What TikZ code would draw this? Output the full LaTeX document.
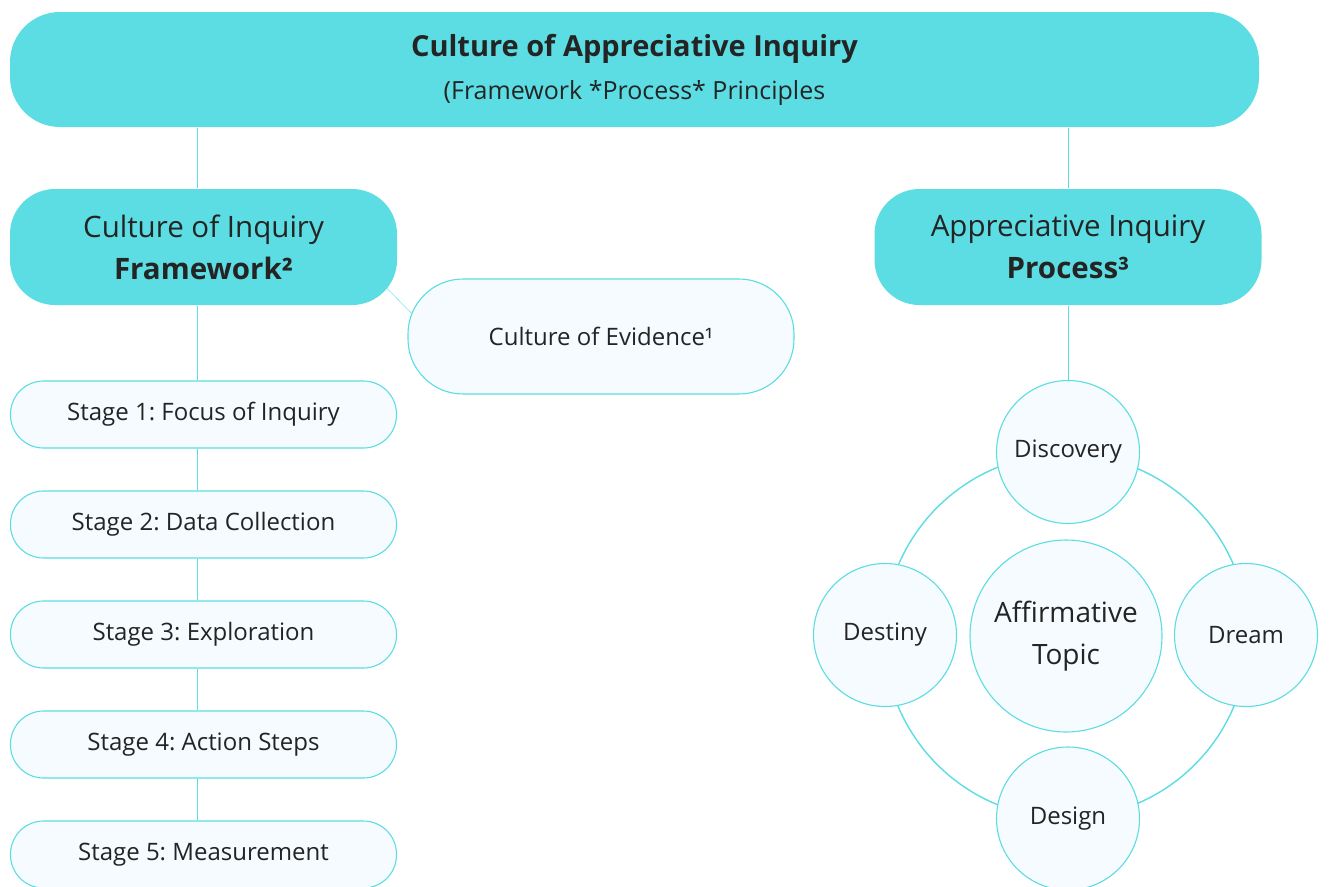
\documentclass[tikz,border=0pt]{standalone}
\usepackage{fontspec}
\setmainfont{Open Sans}
\usetikzlibrary{backgrounds}
\definecolor{aqua}{HTML}{5BDDE3}
\definecolor{pale}{HTML}{F5FBFE}
\definecolor{ink}{HTML}{242424}
\frenchspacing
\begin{document}
\begin{tikzpicture}[x=1pt,y=-1pt,line width=1.1pt,text=ink,
    topbox/.style={rounded corners=50pt,fill=aqua,minimum width=1249pt,minimum height=115pt,align=center,font=\fontsize{25}{43}\selectfont},
    headbox/.style={rounded corners=45pt,fill=aqua,minimum width=387pt,minimum height=116pt,align=center,font=\fontsize{29.5}{42}\selectfont},
    stagebox/.style={rounded corners=33pt,draw=aqua,fill=pale,minimum width=386pt,minimum height=67pt,font=\fontsize{24}{26}\selectfont},
    evbox/.style={rounded corners=55pt,draw=aqua,fill=pale,minimum width=386pt,minimum height=115pt,font=\fontsize{24}{26}\selectfont},
    phase/.style={circle,draw=aqua,fill=pale,minimum size=143pt,inner sep=0pt,font=\fontsize{24}{26}\selectfont},
    link/.style={draw=aqua}]
    \useasboundingbox(0,0)rectangle(1329,886);
    \node[topbox](top)at(634.5,69.5){{\fontsize{29}{43}\selectfont\textbf{Culture of Appreciative Inquiry}}\\(Framework *Process* Principles};
    \node[headbox](cif)at(203.5,247){Culture of Inquiry\\\textbf{Framework²}};
    \node[headbox](aip)at(1068,247){Appreciative Inquiry\\\textbf{Process³}};
    \node[evbox](coe)at(601,336.5){Culture of Evidence¹};
    % stages of the framework
    \foreach \n/\t in {1/Focus of Inquiry,2/Data Collection,3/Exploration,4/Action Steps,5/Measurement}
        \node[stagebox](s\n)at(203.5,304.5+110*\n){Stage \n: \t};
    % the cycle
    \node[phase,minimum size=192pt,align=center,font=\fontsize{28}{42}\selectfont](topic)at(1066,636){Affirmative\\Topic};
    \node[phase](disc)at(1068,452){Discovery};
    \node[phase](dream)at(1246,635){Dream};
    \node[phase](design)at(1068,818.5){Design};
    \node[phase](dest)at(885,635){Destiny};
    \coordinate(k1)at(370,271);
    \coordinate(k2)at(425,327);
    \begin{scope}[on background layer]
        \draw[link]([xshift=-6]cif.north)--([xshift=-6]cif.north|-top.south);
        \draw[link](aip.north)--(aip.north|-top.south);
        \draw[link](k1)--(k2);
        \draw[link]([xshift=-6]cif.south)--([xshift=-6]s1.north);
        \foreach \i/\j in {1/2,2/3,3/4,4/5}
            \draw[link]([xshift=-6]s\i.south)--([xshift=-6]s\j.north);
        \draw[link](aip.south)--(disc.north);
        \draw[link,line width=1.4pt](topic.center)circle[radius=182];
    \end{scope}
\end{tikzpicture}
\end{document}
